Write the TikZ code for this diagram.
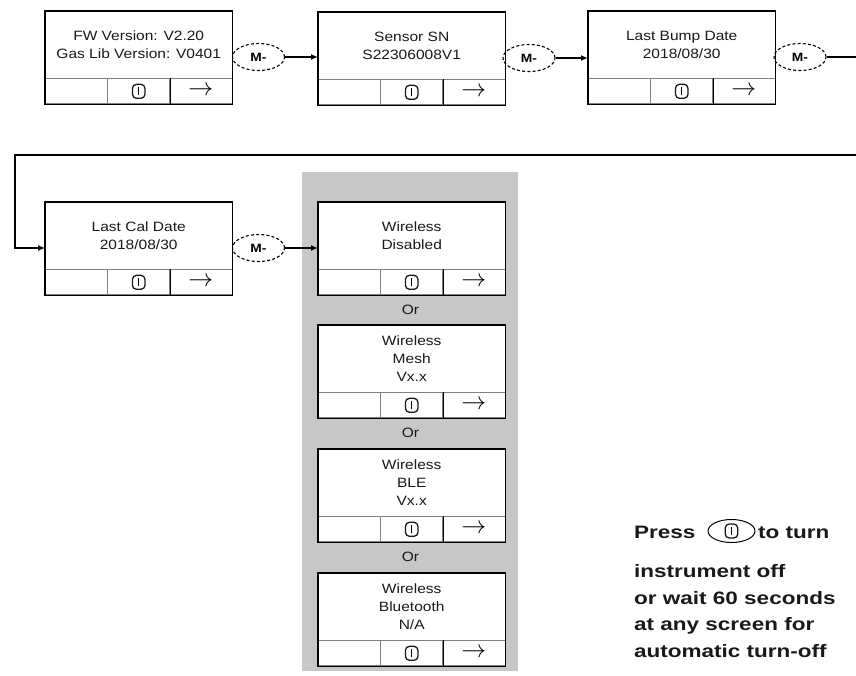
\documentclass[tikz,border=0pt]{standalone}
\usepackage{fontspec}
\newfontfamily\boxfont[FakeStretch=1.15]{Liberation Sans}
\newfontfamily\notefont[FakeStretch=1.25]{Liberation Sans}
\usetikzlibrary{arrows.meta, positioning, shapes.geometric}

% bar inside the power button
\newcommand\pwrsym{\rule{1.3pt}{8pt}}

% one display screen: name, top-left corner, text
\newcommand\screen[3]{%
  \node[scrbody, anchor=north west] (#1) at (#2) {#3};
  \node[cell, anchor=north west] (#1l) at (#1.south west) {};
  \node[cell, anchor=north]      (#1m) at (#1.south) {};
  \node[cell, anchor=north east] (#1r) at (#1.south east) {\fontsize{24}{24}\selectfont$\rightarrow$};
  \node[pwrbtn] at (#1m) {\pwrsym};
  \draw[frame] (#1m.north east) -- (#1m.south east);
  \draw[frame] (#1.north west) rectangle (#1r.south east);
}

\begin{document}
\begin{tikzpicture}[
    x=1pt, y=1pt,
    >={Latex[length=7pt,width=6pt]},
    % Screens
    scrbody/.style={fill=white, inner sep=0pt, minimum width=187pt, minimum height=67pt,
                    align=center, text=black!90, font=\boxfont\fontsize{13.5}{18}\selectfont},
    cell/.style   ={draw=black!50, line width=0.8pt, fill=white, inner sep=0pt,
                    minimum width=62.33pt, minimum height=25pt},
    frame/.style  ={draw=black, line width=1.3pt},
    pwrbtn/.style ={draw=black!90, line width=1.3pt, rounded corners=4pt, inner sep=0pt,
                    minimum width=12.5pt, minimum height=14pt},
    % Buttons and wires
    mbtn/.style   ={draw, ellipse, line width=1.1pt, dash pattern=on 3pt off 2.2pt,
                    minimum width=52pt, minimum height=27pt, inner sep=0pt,
                    font=\boxfont\bfseries\fontsize{12}{12}\selectfont},
    wire/.style   ={line width=1.5pt},
    conn/.style   ={wire, ->},
    orlbl/.style  ={text=black!90, font=\boxfont\fontsize{13.5}{14}\selectfont},
    note/.style   ={inner sep=0pt, text=black!90, font=\notefont\bfseries\fontsize{18}{27}\selectfont},
    panel/.style  ={fill=black!22}
]
\useasboundingbox (0,0) rectangle (856,-675);

% Grey group of wireless screens
\fill[panel] (302,-172) rectangle (518,-671);

% --------------------------- First row -------------------------------
\screen{fw}{45,-11}{FW Version: V2.20\\Gas Lib Version: V0401}
\screen{sn}{318,-12}{Sensor SN\\S22306008V1}
\screen{bump}{588,-11}{Last Bump Date\\2018/08/30}

\node[mbtn] (m1) at (258.5,-57) {M-};
\node[mbtn] (m2) at (529,-58) {M-};
\node[mbtn] (m3) at (800,-57) {M-};

% -------------------------- Second row -------------------------------
\screen{cal}{45,-202}{Last Cal Date\\2018/08/30}
\node[mbtn] (m4) at (258.5,-248) {M-};

\screen{wloff}{318,-202}{Wireless\\Disabled}
\screen{wlmesh}{318,-325}{Wireless\\Mesh\\Vx.x}
\screen{wlble}{318,-449}{Wireless\\BLE\\Vx.x}
\screen{wlbt}{318,-573}{Wireless\\Bluetooth\\N/A}

\node[orlbl] (or1) at (410.5,-309.5) {Or};
\node[orlbl] (or2) at (410.5,-433) {Or};
\node[orlbl] (or3) at (410.5,-557) {Or};

% ============================ Wiring =================================
\coordinate (outR)  at (860,-57);
\coordinate (backR) at (860,-155);
\coordinate (backL) at (15,-155);

\draw[conn] (m1.east) -- (sn.west |- m1.east);
\draw[conn] (m2.east) -- (bump.west |- m2.east);
\draw[wire] (m3.east) -- (outR);
\draw[conn] (backR) -- (backL) |- (cal.west |- m4.center);
\draw[conn] (m4.east) -- (wloff.west |- m4.east);

% --------------------------- Note ------------------------------------
\node[note, anchor=base west] (press) at (634,-538) {Press};
\node[draw, ellipse, line width=1pt, minimum width=47pt, minimum height=23pt] (pwroval) at (731.5,-531) {};
\node[pwrbtn] at (pwroval) {\pwrsym};
\node[note, anchor=base west] (turn) at (758,-538) {to turn};
\foreach \txt [count=\i] in {instrument off, or wait 60 seconds, at any screen for, automatic turn-off}
  \node[note, anchor=base west] (note\i) at (634,{-551-26.5*\i}) {\txt};

\end{tikzpicture}
\end{document}
